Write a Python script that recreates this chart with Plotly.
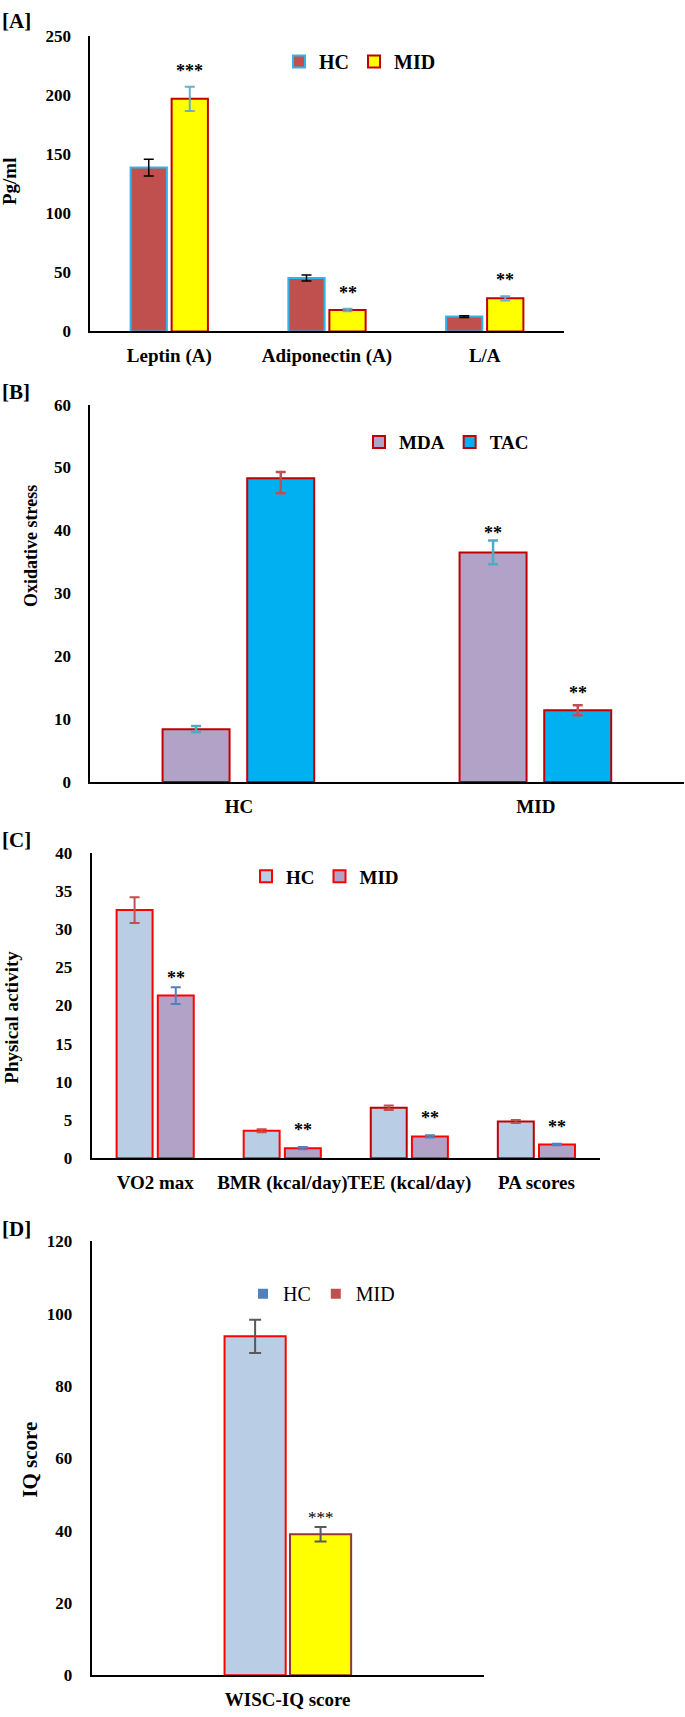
import plotly.graph_objects as go

# ---------------- data ----------------
# Panel A
a_cats = ["Leptin (A)", "Adiponectin (A)", "L/A"]
a_hc = [138.5, 45.2, 12.5]
a_hc_err = [7.1, 2.5, 0.7]
a_mid = [196.6, 18.1, 28.0]
a_mid_err = [10.2, 1.0, 1.8]
a_sig = ["***", "**", "**"]

# Panel B
b_cats = ["HC", "MID"]
b_mda = [8.4, 36.5]
b_mda_err = [0.5, 1.9]
b_tac = [48.3, 11.4]
b_tac_err_plus = [1.0, 0.8]
b_tac_err_minus = [2.4, 0.8]
b_sig_mda = ["", "**"]
b_sig_tac = ["", "**"]

# Panel C
c_cats = ["VO2 max", "BMR (kcal/day)", "TEE (kcal/day)", "PA scores"]
c_hc = [32.5, 3.6, 6.6, 4.8]
c_hc_err = [1.7, 0.2, 0.3, 0.2]
c_mid = [21.3, 1.3, 2.85, 1.8]
c_mid_err = [1.1, 0.15, 0.15, 0.1]
c_sig = ["**", "**", "**", "**"]

# Panel D
d_cats = ["WISC-IQ score"]
d_hc = [93.7]
d_hc_err = [4.6]
d_mid = [39.0]
d_mid_err = [2.0]
d_sig = ["***"]

# ---------------- layout helpers ----------------
W, H = 685, 1717
FONT = "Liberation Serif, Times New Roman, serif"


def fx(p):
    return p / W


def fy(p):
    return 1 - p / H


fig = go.Figure()

# ---- Panel A ----
fig.add_trace(go.Bar(
    x=a_cats, y=a_hc, name="HC", xaxis="x", yaxis="y", legend="legend",
    marker=dict(color="#C0504D", line=dict(color="#31B5E8", width=2)),
    error_y=dict(type="data", array=a_hc_err, color="black", thickness=1.5, width=5),
    width=0.23, offset=-0.245))
fig.add_trace(go.Bar(
    x=a_cats, y=a_mid, name="MID", xaxis="x", yaxis="y", legend="legend",
    marker=dict(color="#FFFF00", line=dict(color="#C00000", width=2)),
    error_y=dict(type="data", array=a_mid_err, color="#6AAFC6", thickness=2, width=5),
    width=0.23, offset=0.015))

# ---- Panel B ----
fig.add_trace(go.Bar(
    x=b_cats, y=b_mda, name="MDA", xaxis="x2", yaxis="y2", legend="legend2",
    marker=dict(color="#B3A2C7", line=dict(color="#C00000", width=2)),
    error_y=dict(type="data", array=b_mda_err, color="#4BACC6", thickness=2.5, width=5),
    width=0.2256, offset=-0.257))
fig.add_trace(go.Bar(
    x=b_cats, y=b_tac, name="TAC", xaxis="x2", yaxis="y2", legend="legend2",
    marker=dict(color="#00B0F0", line=dict(color="#C00000", width=2)),
    error_y=dict(type="data", array=b_tac_err_plus, arrayminus=b_tac_err_minus,
                 color="#C0504D", thickness=2.5, width=5),
    width=0.2256, offset=0.028))

# ---- Panel C ----
fig.add_trace(go.Bar(
    x=c_cats, y=c_hc, name="HC", xaxis="x3", yaxis="y3", legend="legend3",
    marker=dict(color="#B9CDE5", line=dict(color=["#FF0000", "#FF0000", "#C00000", "#C00000"], width=2)),
    error_y=dict(type="data", array=c_hc_err, color="#C0504D", thickness=2, width=5),
    width=0.283, offset=-0.304))
fig.add_trace(go.Bar(
    x=c_cats, y=c_mid, name="MID", xaxis="x3", yaxis="y3", legend="legend3",
    marker=dict(color="#B3A2C7", line=dict(color="#FF0000", width=2)),
    error_y=dict(type="data", array=c_mid_err, color="#4F81BD", thickness=2, width=5),
    width=0.283, offset=0.02))

# ---- Panel D ----
fig.add_trace(go.Bar(
    x=d_cats, y=d_hc, name="HC", xaxis="x4", yaxis="y4", showlegend=False,
    marker=dict(color="#B9CDE5", line=dict(color="#FF0000", width=2)),
    error_y=dict(type="data", array=d_hc_err, color="#595959", thickness=2, width=6),
    width=0.156, offset=-0.161))
fig.add_trace(go.Bar(
    x=d_cats, y=d_mid, name="MID", xaxis="x4", yaxis="y4", showlegend=False,
    marker=dict(color="#FFFF00", line=dict(color="#943634", width=2)),
    error_y=dict(type="data", array=d_mid_err, color="#595959", thickness=2, width=6),
    width=0.156, offset=0.006))
# legend-only markers for panel D
fig.add_trace(go.Scatter(x=[None], y=[None], mode="markers", name="HC", xaxis="x4", yaxis="y4",
                         legend="legend4", marker=dict(symbol="square", size=10, color="#4F81BD")))
fig.add_trace(go.Scatter(x=[None], y=[None], mode="markers", name="MID", xaxis="x4", yaxis="y4",
                         legend="legend4", marker=dict(symbol="square", size=10, color="#C0504D")))

# ---------------- axes ----------------
tickfont = dict(family=FONT, size=17, color="black", weight="bold")
xtickfont = dict(family=FONT, size=19, color="black", weight="bold")


def xax(x0, x1, anchor):
    return dict(domain=[fx(x0), fx(x1)], anchor=anchor, type="category", showline=True,
                linecolor="black", linewidth=2, ticks="", showgrid=False, zeroline=False,
                tickangle=0, tickfont=xtickfont, ticklabelstandoff=6, fixedrange=True)


def yax(y0px, y1px, anchor, rng, dtick):
    return dict(domain=[fy(y0px), fy(y1px)], anchor=anchor, range=rng, dtick=dtick, showline=True,
                linecolor="black", linewidth=2, ticks="", showgrid=False, zeroline=False,
                tickfont=tickfont, ticklabelstandoff=14, fixedrange=True)


panels = {
    "A": dict(x0=90.4, x1=563.6, ybot=326, ytop=27),
    "B": dict(x0=90.4, x1=684.4, ybot=781.7, ytop=400),
    "C": dict(x0=91.7, x1=600, ybot=1162, ytop=853.3),
    "D": dict(x0=91.7, x1=483.6, ybot=1685, ytop=1246),
}

fig.update_layout(
    xaxis=xax(panels["A"]["x0"], panels["A"]["x1"], "y"),
    yaxis=yax(panels["A"]["ybot"], panels["A"]["ytop"], "x", [0, 250], 50),
    xaxis2=xax(panels["B"]["x0"], panels["B"]["x1"], "y2"),
    yaxis2=yax(panels["B"]["ybot"], panels["B"]["ytop"], "x2", [0, 60], 10),
    xaxis3=xax(panels["C"]["x0"], panels["C"]["x1"], "y3"),
    yaxis3=yax(panels["C"]["ybot"], panels["C"]["ytop"], "x3", [0, 40], 5),
    xaxis4=xax(panels["D"]["x0"], panels["D"]["x1"], "y4"),
    yaxis4=yax(panels["D"]["ybot"], panels["D"]["ytop"], "x4", [0, 120], 20),
)

# ---------------- legends ----------------
def leg(xpx, ypx, size, bold=True):
    f = dict(family=FONT, size=size, color="black")
    if bold:
        f["weight"] = "bold"
    return dict(orientation="h", x=fx(xpx), y=fy(ypx), xanchor="left", yanchor="middle",
                font=f, bgcolor="rgba(0,0,0,0)", itemwidth=30, traceorder="normal")


fig.update_layout(
    legend=leg(279, 53, 20),
    legend2=leg(359, 438, 19),
    legend3=leg(246, 877, 19),
    legend4=leg(243, 1299, 20, bold=False),
)

# ---------------- annotations ----------------
ann = []
sigfont = dict(family=FONT, size=18, color="black", weight="bold")


def add_sig(xref, yref, cats, vals, errs, sigs, shift, offset, font=sigfont):
    for c, v, e, s in zip(cats, vals, errs, sigs):
        if s:
            ann.append(dict(x=c, y=v + e, xref=xref, yref=yref, text=s, showarrow=False,
                            yanchor="middle", yshift=shift, xshift=offset, font=font))


cwA = (panels["A"]["x1"] - panels["A"]["x0"]) / len(a_cats)
add_sig("x", "y", a_cats, a_mid, a_mid_err, a_sig, 16, (0.015 + 0.115) * cwA)
cwB = (panels["B"]["x1"] - panels["B"]["x0"]) / len(b_cats)
add_sig("x2", "y2", b_cats, b_mda, b_mda_err, b_sig_mda, 7, (-0.257 + 0.1128) * cwB)
add_sig("x2", "y2", b_cats, b_tac, b_tac_err_plus, b_sig_tac, 12, (0.028 + 0.1128) * cwB)
cwC = (panels["C"]["x1"] - panels["C"]["x0"]) / len(c_cats)
add_sig("x3", "y3", c_cats[:1], c_mid[:1], c_mid_err[:1], c_sig[:1], 9, (0.02 + 0.1415) * cwC)
add_sig("x3", "y3", c_cats[1:], c_mid[1:], c_mid_err[1:], c_sig[1:], 17, (0.02 + 0.1415) * cwC)
cwD = (panels["D"]["x1"] - panels["D"]["x0"]) / len(d_cats)
add_sig("x4", "y4", d_cats, d_mid, d_mid_err, d_sig, 10, (0.006 + 0.078) * cwD,
        font=dict(family=FONT, size=17, color="black"))

# panel labels
for lab, ypx in [("[A]", 12), ("[B]", 387), ("[C]", 840), ("[D]", 1234)]:
    ann.append(dict(x=0, y=fy(ypx), xref="paper", yref="paper", text=lab, showarrow=False,
                    xanchor="left", yanchor="middle",
                    font=dict(family=FONT, size=21, color="black", weight="bold")))

# axis titles (rotated)
for t, xpx, ypx, sz in [("Pg/ml", 9, 174, 19), ("Oxidative stress", 31, 543, 18),
                        ("Physical activity", 12, 1020, 19), ("IQ score", 30, 1467, 21)]:
    ann.append(dict(x=fx(xpx), y=fy(ypx), xref="paper", yref="paper", text=t, showarrow=False,
                    textangle=-90, xanchor="center", yanchor="middle",
                    font=dict(family=FONT, size=sz, color="black", weight="bold")))

fig.update_layout(
    annotations=ann,
    width=W, height=H,
    margin=dict(l=0, r=0, t=0, b=0),
    paper_bgcolor="white", plot_bgcolor="white",
    barmode="group",
    showlegend=True,
    font=dict(family=FONT, color="black"),
)

fig.write_html("out.html", config={"displayModeBar": False},
               post_script="document.body.style.margin='0';")
